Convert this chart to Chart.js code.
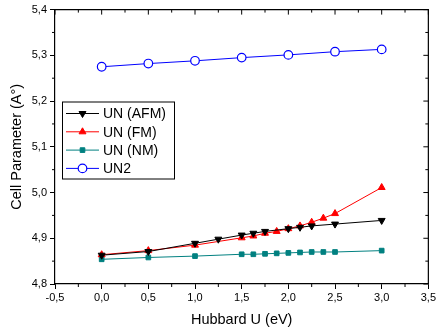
<!DOCTYPE html>
<html>
<head>
<meta charset="utf-8">
<script src="https://cdn.jsdelivr.net/npm/chart.js@4/dist/chart.umd.min.js"></script>
<style>
  html, body { margin: 0; padding: 0; background: #fff; }
  #wrap { width: 438px; height: 333px; }
</style>
</head>
<body>
<div id="wrap"><canvas id="chart" width="438" height="333"></canvas></div>
<script>
// Hubbard U values (eV)
const uCoarse = [0, 0.5, 1, 1.5, 2, 2.5, 3];
const uAfm = [0, 0.5, 1, 1.25, 1.5, 1.625, 1.75, 2, 2.125, 2.25, 2.5, 3];
const uFine = [0, 0.5, 1, 1.5, 1.625, 1.75, 1.875, 2, 2.125, 2.25, 2.375, 2.5, 3];

// cell parameter (A°)
const unAfm = [4.863, 4.871, 4.889, 4.898, 4.907, 4.911, 4.915, 4.921, 4.924, 4.927, 4.931, 4.939];
const unFm = [4.864, 4.873, 4.885, 4.901, 4.905, 4.911, 4.915, 4.921, 4.927, 4.935, 4.944, 4.954, 5.011];
const unNm = [4.854, 4.858, 4.861, 4.865, 4.865, 4.866, 4.867, 4.868, 4.869, 4.870, 4.870, 4.870, 4.873];
const un2 = [5.275, 5.282, 5.288, 5.295, 5.301, 5.308, 5.313];

const xTicks = [-0.5, 0, 0.5, 1, 1.5, 2, 2.5, 3, 3.5];
const yTicks = [4.8, 4.9, 5.0, 5.1, 5.2, 5.3, 5.4];

const FONT = 'Liberation Sans, Arial, sans-serif';

const pts = (xs, ys) => xs.map((x, i) => ({ x: x, y: ys[i] }));
const comma = v => Number(v).toFixed(1).replace('.', ',');

// frame, mirrored ticks and minor ticks
const framePlugin = {
    id: 'frame',
    afterDraw(chart) {
        const ctx = chart.ctx;
        const a = chart.chartArea;
        const xs = chart.scales.x, ys = chart.scales.y;
        ctx.save();
        ctx.strokeStyle = '#000';
        ctx.lineWidth = 1.2;
        ctx.beginPath();
        ctx.moveTo(a.left, a.top);
        ctx.lineTo(a.right, a.top);
        ctx.lineTo(a.right, a.bottom);
        ctx.stroke();
        ctx.lineWidth = 1;
        ctx.beginPath();
        xTicks.forEach((v, i) => {
            const px = xs.getPixelForValue(v);
            ctx.moveTo(px, a.top);
            ctx.lineTo(px, a.top + 5);
            if (i < xTicks.length - 1) {
                const mx = xs.getPixelForValue(v + 0.25);
                ctx.moveTo(mx, a.top);
                ctx.lineTo(mx, a.top + 3);
                ctx.moveTo(mx, a.bottom);
                ctx.lineTo(mx, a.bottom + 3);
            }
        });
        yTicks.forEach((v, i) => {
            const py = ys.getPixelForValue(v);
            ctx.moveTo(a.right, py);
            ctx.lineTo(a.right - 5, py);
            if (i < yTicks.length - 1) {
                const my = ys.getPixelForValue(v + 0.05);
                ctx.moveTo(a.right, my);
                ctx.lineTo(a.right - 3, my);
                ctx.moveTo(a.left, my);
                ctx.lineTo(a.left - 3, my);
            }
        });
        ctx.stroke();
        ctx.restore();
    }
};

// legend box inside the plot, line + marker samples
const legendPlugin = {
    id: 'boxLegend',
    afterDraw(chart) {
        const ctx = chart.ctx;
        const left = 62, top = 101.5, w = 112, h = 77;
        ctx.save();
        ctx.fillStyle = '#fff';
        ctx.fillRect(left, top, w, h);
        ctx.strokeStyle = '#000';
        ctx.lineWidth = 1;
        ctx.strokeRect(left + 0.5, top + 0.5, w, h);
        ctx.font = '14px ' + FONT;
        ctx.textBaseline = 'middle';
        chart.data.datasets.forEach((ds, i) => {
            const y = top + 12 + i * 18.3;
            ctx.strokeStyle = ds.borderColor;
            ctx.lineWidth = 1;
            ctx.beginPath();
            ctx.moveTo(66, y);
            ctx.lineTo(99, y);
            ctx.stroke();
            ctx.fillStyle = ds.pointBackgroundColor;
            ctx.strokeStyle = ds.borderColor;
            ctx.lineWidth = ds.pointBorderWidth;
            Chart.helpers.drawPoint(ctx, {
                pointStyle: ds.pointStyle,
                radius: ds.pointRadius,
                rotation: ds.pointRotation || 0,
                borderWidth: ds.pointBorderWidth
            }, 82.5, y);
            ctx.fillStyle = '#000';
            ctx.fillText(ds.label, 103, y + 1);
        });
        ctx.restore();
    }
};

new Chart(document.getElementById('chart'), {
    type: 'line',
    data: {
        datasets: [
            {
                label: 'UN (AFM)',
                data: pts(uAfm, unAfm),
                borderColor: '#000000',
                backgroundColor: '#000000',
                pointBackgroundColor: '#000000',
                pointStyle: 'triangle',
                pointRotation: 180,
                pointRadius: 4,
                pointBorderWidth: 1,
                borderWidth: 1
            },
            {
                label: 'UN (FM)',
                data: pts(uFine, unFm),
                borderColor: '#ff0000',
                backgroundColor: '#ff0000',
                pointBackgroundColor: '#ff0000',
                pointStyle: 'triangle',
                pointRadius: 4,
                pointBorderWidth: 1,
                borderWidth: 1
            },
            {
                label: 'UN (NM)',
                data: pts(uFine, unNm),
                borderColor: '#008080',
                backgroundColor: '#008080',
                pointBackgroundColor: '#008080',
                pointStyle: 'rect',
                pointRadius: 3.3,
                pointBorderWidth: 1,
                borderWidth: 1
            },
            {
                label: 'UN2',
                data: pts(uCoarse, un2),
                borderColor: '#0000ff',
                backgroundColor: '#ffffff',
                pointBackgroundColor: '#ffffff',
                pointStyle: 'circle',
                pointRadius: 4.3,
                pointBorderWidth: 1.2,
                borderWidth: 1
            }
        ]
    },
    options: {
        responsive: false,
        animation: false,
        layout: { padding: { top: 8, right: 7, left: 0, bottom: 0 } },
        plugins: {
            legend: { display: false },
            tooltip: { enabled: false }
        },
        scales: {
            x: {
                type: 'linear',
                min: -0.5,
                max: 3.5,
                afterFit(scale) { scale.height = 49; },
                afterBuildTicks(scale) { scale.ticks = xTicks.map(v => ({ value: v })); },
                ticks: {
                    callback: v => comma(v),
                    color: '#000',
                    font: { family: FONT, size: 11 },
                    padding: 2,
                    maxRotation: 0
                },
                grid: { drawOnChartArea: false, tickLength: 5, color: '#000', lineWidth: 1 },
                border: { color: '#000', width: 1.2 },
                title: {
                    display: true,
                    text: 'Hubbard U (eV)',
                    color: '#000',
                    font: { family: FONT, size: 14.5 },
                    padding: { top: 0, bottom: 4 }
                }
            },
            y: {
                type: 'linear',
                min: 4.8,
                max: 5.4,
                afterFit(scale) { scale.width = 55; },
                afterBuildTicks(scale) { scale.ticks = yTicks.map(v => ({ value: v })); },
                ticks: {
                    callback: v => comma(v),
                    color: '#000',
                    font: { family: FONT, size: 11 },
                    padding: 3
                },
                grid: { drawOnChartArea: false, tickLength: 5, color: '#000', lineWidth: 1 },
                border: { color: '#000', width: 1.2 },
                title: {
                    display: true,
                    text: 'Cell Parameter (A°)',
                    color: '#000',
                    font: { family: FONT, size: 14.5 },
                    padding: { top: 8, bottom: 0 }
                }
            }
        }
    },
    plugins: [framePlugin, legendPlugin]
});
</script>
</body>
</html>
